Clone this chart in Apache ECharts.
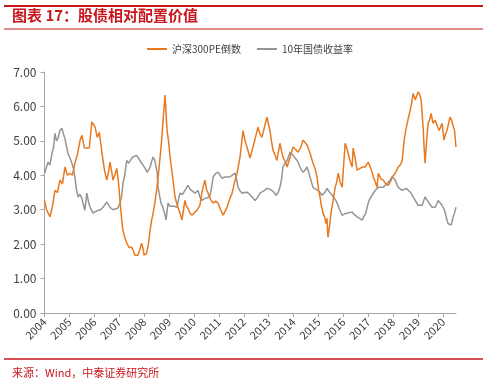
<!DOCTYPE html>
<html><head><meta charset="utf-8">
<script src="https://cdn.jsdelivr.net/npm/echarts@6/dist/echarts.min.js"></script>
<style>html,body{margin:0;padding:0;background:#fff;}#c{width:500px;height:387px;}</style>
</head><body><div id="c"></div>
<script>
const titleText = "图表 17：股债相对配置价值";
const sourceText = "来源：Wind，中泰证券研究所";
const seriesNames = ["沪深300PE倒数", "10年国债收益率"];
const yTicks = [0, 1, 2, 3, 4, 5, 6, 7];
const xYearMin = 2004, xYearMax = 2020.52;

const peYears = [2004.0,2004.08,2004.22,2004.32,2004.42,2004.52,2004.62,2004.72,2004.82,2004.92,2005.02,2005.12,2005.22,2005.32,2005.43,2005.5,2005.6,2005.7,2005.8,2005.9,2006.03,2006.12,2006.2,2006.28,2006.35,2006.42,2006.5,2006.57,2006.63,2006.7,2006.75,2006.82,2006.9,2006.97,2007.03,2007.1,2007.15,2007.22,2007.3,2007.4,2007.5,2007.57,2007.63,2007.75,2007.83,2007.9,2007.96,2008.0,2008.1,2008.17,2008.24,2008.3,2008.36,2008.43,2008.5,2008.57,2008.64,2008.7,2008.76,2008.84,2008.92,2008.98,2009.04,2009.1,2009.16,2009.24,2009.3,2009.36,2009.44,2009.52,2009.58,2009.64,2009.7,2009.76,2009.84,2009.92,2010.04,2010.14,2010.24,2010.32,2010.38,2010.44,2010.5,2010.57,2010.67,2010.77,2010.87,2010.97,2011.07,2011.17,2011.25,2011.33,2011.43,2011.53,2011.63,2011.73,2011.85,2011.97,2012.05,2012.13,2012.25,2012.37,2012.47,2012.57,2012.65,2012.73,2012.83,2012.93,2013.05,2013.17,2013.25,2013.33,2013.45,2013.57,2013.66,2013.74,2013.86,2013.98,2014.08,2014.18,2014.28,2014.38,2014.46,2014.54,2014.66,2014.78,2014.86,2014.94,2015.0,2015.06,2015.12,2015.18,2015.24,2015.3,2015.34,2015.38,2015.44,2015.5,2015.59,2015.67,2015.73,2015.79,2015.87,2015.95,2016.0,2016.07,2016.13,2016.19,2016.27,2016.35,2016.39,2016.47,2016.55,2016.67,2016.77,2016.87,2016.95,2017.0,2017.1,2017.2,2017.28,2017.35,2017.4,2017.5,2017.6,2017.7,2017.8,2017.88,2017.96,2018.08,2018.2,2018.28,2018.36,2018.44,2018.5,2018.56,2018.62,2018.68,2018.74,2018.8,2018.88,2018.94,2019.0,2019.06,2019.12,2019.2,2019.24,2019.28,2019.34,2019.4,2019.46,2019.52,2019.6,2019.68,2019.76,2019.84,2019.9,2019.96,2020.04,2020.1,2020.16,2020.22,2020.28,2020.34,2020.4,2020.46,2020.52];
const peValues = [3.27,3.0,2.79,3.1,3.56,3.5,3.86,3.75,4.24,4.0,4.06,4.0,4.35,4.6,5.02,5.16,4.8,4.79,4.8,5.55,5.4,5.1,5.25,4.8,4.43,4.1,3.86,4.1,4.38,4.1,3.86,4.0,4.2,3.8,3.27,2.7,2.4,2.2,2.03,1.9,1.91,1.8,1.68,1.68,1.85,2.03,1.85,1.68,1.73,2.0,2.4,2.7,2.9,3.2,3.56,4.0,4.53,5.0,5.6,6.33,5.3,5.0,4.53,4.2,3.86,3.37,3.2,3.07,2.9,2.7,3.0,3.27,3.1,3.04,2.9,2.84,2.93,3.0,3.13,3.5,3.7,3.86,3.6,3.48,3.3,3.19,3.25,3.19,3.0,2.84,2.95,3.07,3.3,3.48,3.8,4.06,4.53,5.3,5.0,4.82,4.5,4.82,5.1,5.4,5.2,5.1,5.4,5.69,5.3,4.73,4.6,4.43,4.93,4.53,4.4,4.24,4.53,4.82,4.75,4.67,4.8,5.02,4.95,4.88,4.64,4.35,4.2,3.95,3.6,3.37,3.1,2.9,2.8,2.6,2.75,2.2,2.5,2.9,3.27,3.65,3.8,4.06,3.8,3.65,4.2,4.93,4.8,4.64,4.4,4.24,4.79,4.5,4.15,4.2,4.24,4.24,4.2,4.38,4.2,3.95,3.8,3.65,4.06,3.9,3.86,3.75,3.71,3.8,3.95,4.06,4.24,4.3,4.43,5.02,5.3,5.51,5.7,5.89,6.1,6.38,6.19,6.3,6.42,6.35,6.19,5.4,4.8,4.35,5.0,5.51,5.6,5.8,5.51,5.6,5.55,5.3,5.4,5.51,5.02,5.2,5.3,5.5,5.69,5.6,5.55,5.3,4.82];

const bondYears = [2004.0,2004.06,2004.14,2004.22,2004.3,2004.36,2004.42,2004.48,2004.54,2004.62,2004.7,2004.76,2004.82,2004.88,2004.94,2005.02,2005.1,2005.16,2005.22,2005.28,2005.35,2005.42,2005.5,2005.56,2005.62,2005.7,2005.76,2005.83,2005.95,2006.05,2006.15,2006.25,2006.35,2006.5,2006.63,2006.75,2006.83,2006.95,2007.03,2007.1,2007.15,2007.22,2007.3,2007.38,2007.46,2007.55,2007.62,2007.7,2007.77,2007.83,2007.9,2007.96,2008.04,2008.12,2008.18,2008.24,2008.3,2008.36,2008.42,2008.48,2008.52,2008.56,2008.62,2008.68,2008.75,2008.82,2008.88,2008.96,2009.04,2009.12,2009.22,2009.32,2009.38,2009.44,2009.54,2009.64,2009.76,2009.84,2009.92,2010.04,2010.16,2010.24,2010.32,2010.44,2010.55,2010.65,2010.72,2010.77,2010.87,2010.97,2011.05,2011.13,2011.23,2011.33,2011.43,2011.53,2011.6,2011.65,2011.72,2011.77,2011.85,2011.93,2012.03,2012.13,2012.23,2012.33,2012.45,2012.55,2012.65,2012.8,2012.93,2013.03,2013.13,2013.22,2013.3,2013.38,2013.45,2013.52,2013.57,2013.66,2013.74,2013.8,2013.86,2013.92,2013.98,2014.06,2014.14,2014.2,2014.26,2014.32,2014.38,2014.46,2014.54,2014.6,2014.66,2014.72,2014.78,2014.88,2014.98,2015.06,2015.14,2015.25,2015.35,2015.4,2015.46,2015.52,2015.59,2015.67,2015.75,2015.85,2015.95,2016.05,2016.15,2016.25,2016.35,2016.45,2016.55,2016.65,2016.75,2016.82,2016.9,2016.96,2017.03,2017.09,2017.15,2017.22,2017.28,2017.34,2017.4,2017.5,2017.6,2017.68,2017.76,2017.86,2017.96,2018.02,2018.08,2018.14,2018.2,2018.28,2018.36,2018.44,2018.52,2018.6,2018.7,2018.8,2018.9,2019.0,2019.08,2019.16,2019.22,2019.28,2019.34,2019.4,2019.48,2019.56,2019.62,2019.68,2019.74,2019.8,2019.88,2019.96,2020.02,2020.08,2020.14,2020.2,2020.26,2020.32,2020.36,2020.4,2020.46,2020.52];
const bondValues = [4.05,4.2,4.38,4.3,4.64,4.8,5.22,5.0,5.07,5.3,5.37,5.2,5.07,4.85,4.64,4.5,4.35,4.2,3.95,3.6,3.37,3.45,3.33,3.15,2.98,3.48,3.25,3.07,2.9,2.95,2.98,3.0,3.07,3.22,3.07,3.0,3.04,3.05,3.19,3.4,3.77,4.0,4.43,4.35,4.45,4.53,4.5,4.58,4.5,4.43,4.35,4.29,4.2,4.09,4.15,4.24,4.4,4.53,4.45,4.43,4.1,3.65,3.4,3.19,3.07,2.9,2.7,3.19,3.1,3.07,3.1,3.07,3.3,3.48,3.45,3.56,3.71,3.6,3.56,3.48,3.56,3.37,3.27,3.33,3.35,3.42,3.7,3.95,4.05,4.09,4.0,3.91,3.95,3.95,3.95,4.0,4.05,4.06,3.85,3.65,3.55,3.48,3.5,3.51,3.45,3.37,3.27,3.35,3.48,3.55,3.62,3.6,3.56,3.5,3.42,3.5,3.65,3.9,4.24,4.35,4.43,4.55,4.67,4.62,4.58,4.5,4.43,4.35,4.24,4.15,4.09,4.15,4.24,4.1,3.95,3.8,3.65,3.6,3.56,3.5,3.42,3.5,3.62,3.55,3.51,3.45,3.37,3.3,3.19,3.0,2.84,2.88,2.9,2.92,2.93,2.85,2.79,2.75,2.7,2.8,2.9,3.1,3.27,3.35,3.42,3.5,3.56,3.6,3.65,3.65,3.65,3.7,3.77,3.85,3.95,3.9,3.86,3.75,3.65,3.6,3.56,3.6,3.62,3.65,3.5,3.37,3.25,3.13,3.15,3.13,3.25,3.37,3.3,3.27,3.15,3.07,3.1,3.07,3.15,3.27,3.2,3.13,3.05,2.93,2.75,2.6,2.58,2.55,2.65,2.79,2.9,3.07];

const pePairs = peYears.map((y, i) => [y, peValues[i]]);
const bondPairs = bondYears.map((y, i) => [y, bondValues[i]]);

const RED = '#C8161D';
const chart = echarts.init(document.getElementById('c'), null, {renderer: 'canvas'});
chart.setOption({
  animation: false,
  backgroundColor: '#fff',
  textStyle: {fontFamily: '"Noto Sans CJK SC", "Noto Sans", sans-serif'},
  grid: {left: 44.5, right: 44, top: 72, bottom: 74, containLabel: false},
  legend: {
    top: 39, left: 'center', itemWidth: 20, itemHeight: 2, itemGap: 16,
    icon: 'rect',
    textStyle: {fontSize: 10, color: '#404040'},
    data: seriesNames
  },
  xAxis: {
    type: 'value', min: xYearMin, max: xYearMax, interval: 1,
    axisLine: {lineStyle: {color: '#A6A6A6', width: 1}},
    axisTick: {show: true, length: 4, lineStyle: {color: '#A6A6A6'}},
    splitLine: {show: false},
    axisLabel: {rotate: 45, fontSize: 11, color: '#404040', margin: 7,
      showMaxLabel: false, formatter: v => String(Math.round(v))}
  },
  yAxis: {
    type: 'value', min: yTicks[0], max: yTicks[yTicks.length - 1], interval: 1,
    axisLine: {show: true, lineStyle: {color: '#A6A6A6', width: 1}},
    axisTick: {show: true, length: 4, lineStyle: {color: '#A6A6A6'}},
    splitLine: {show: false},
    axisLabel: {fontSize: 12, color: '#404040', margin: 8, formatter: v => v.toFixed(2)}
  },
  series: [
    {name: seriesNames[0], type: 'line', data: pePairs, showSymbol: false, symbol: 'none',
     lineStyle: {color: '#E9791F', width: 1.5}, itemStyle: {color: '#E9791F'}, z: 3},
    {name: seriesNames[1], type: 'line', data: bondPairs, showSymbol: false, symbol: 'none',
     lineStyle: {color: '#959595', width: 1.5}, itemStyle: {color: '#959595'}, z: 2}
  ],
  graphic: [
    {type: 'line', shape: {x1: 4, y1: 6, x2: 483, y2: 6}, style: {stroke: RED, lineWidth: 2}},
    {type: 'text', left: 12, top: 8, style: {text: titleText, fill: RED, font: 'bold 15px "Noto Sans CJK SC", sans-serif'}},
    {type: 'line', shape: {x1: 4, y1: 29, x2: 483, y2: 29}, style: {stroke: RED, lineWidth: 1}},
    {type: 'line', shape: {x1: 4, y1: 359, x2: 483, y2: 359}, style: {stroke: RED, lineWidth: 1.5}},
    {type: 'text', left: 12, top: 367, style: {text: sourceText, fill: RED, font: '11px "Noto Sans CJK SC", sans-serif'}}
  ]
});
</script></body></html>
